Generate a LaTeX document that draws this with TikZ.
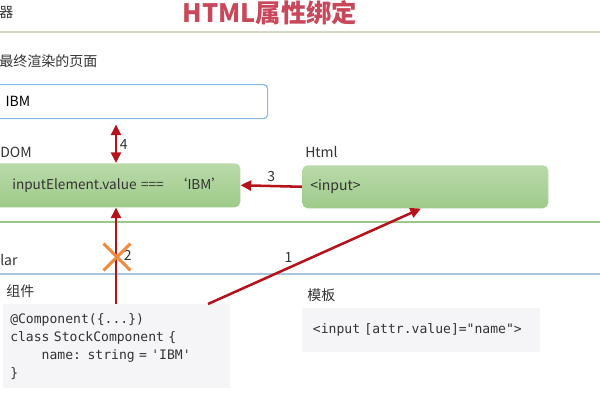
\documentclass[tikz,border=0pt]{standalone}
\usepackage{fontspec}
\setmainfont{Noto Sans CJK SC}
\newfontfamily\codefont{DejaVu Sans Mono}
\usetikzlibrary{arrows.meta,shapes.misc}
\definecolor{titlered}{HTML}{C9475B}
\definecolor{linkred}{HTML}{B5121B}
\definecolor{greentop}{HTML}{B9DAA9}
\definecolor{greenbot}{HTML}{9FCA8A}
\definecolor{codegrey}{HTML}{F5F4F7}
\definecolor{inputblue}{HTML}{8DB9EA}
\definecolor{crossorange}{HTML}{EF8A3F}
\definecolor{textgrey}{HTML}{333333}
\definecolor{ruleolive}{HTML}{D2DAC3}
\definecolor{rulegreen}{HTML}{9DC88D}
\definecolor{ruleblue}{HTML}{A9C5E0}
\newcommand{\lblfont}{\fontsize{10.5pt}{12.6pt}\selectfont}
\newcommand{\domfont}{\fontsize{10.2pt}{12.2pt}\selectfont}
\newcommand{\codesize}{\fontsize{9.8pt}{13.5pt}\selectfont}

\begin{document}
\begin{tikzpicture}[x=0.75pt,y=-0.75pt,
    lbl/.style={anchor=west,inner sep=0pt,text=textgrey,font=\lblfont},
    greenbox/.style={rounded corners=4pt,top color=greentop,bottom color=greenbot,
      anchor=north west,text=textgrey,font=\lblfont,align=left},
    inputbox/.style={draw=inputblue,line width=0.9pt,rounded corners=3pt,fill=white,
      anchor=north west,text=black,font=\lblfont,align=left},
    codebox/.style={fill=codegrey,anchor=north west,text=textgrey,
      font=\codefont\codesize,align=left},
    link/.style={draw=linkred,line width=1.9pt,>={Triangle[length=8pt,width=7.5pt]},->},
    crossmark/.style={cross out,draw=crossorange,line width=2.2pt,minimum size=18pt,inner sep=0pt},
    num/.style={text=textgrey,font=\lblfont,inner sep=2pt}]
  \useasboundingbox (0,0) rectangle (600,400);
  \clip (0,0) rectangle (600,400);

  % section rules
  \draw[ruleolive,line width=1.5pt] (0,32) -- (600,32);
  \draw[rulegreen,line width=0.8pt] (0,222) -- (600,222);
  \draw[ruleblue,line width=1.1pt] (0,274) -- (600,274);

  % titles and labels
  \draw (270,13) node[text=titlered,font=\bfseries\fontsize{19pt}{22pt}\selectfont](title){HTML属性绑定};
  \draw (-1,12) node[lbl](browser){器};
  \draw (-1,61) node[lbl](pagelbl){最终渲染的页面};
  \draw (0,152) node[lbl](domlbl){DOM};
  \draw (305,152) node[lbl](htmllbl){Html};
  \draw (0,260) node[lbl](nglbl){lar};
  \draw (6,291) node[lbl](complbl){组件};
  \draw (307,295) node[lbl](tpllbl){模板};

  % boxes
  \draw (-10,84) node[inputbox,minimum width=207.75pt,minimum height=25.5pt,
    inner xsep=11.25pt,text width=185.25pt](page){IBM};
  \draw (-10,163) node[greenbox,minimum width=187.5pt,minimum height=33pt,
    inner xsep=16.5pt,text width=154.5pt,font=\domfont](dom){\mbox{inputElement.value ===\hspace{0.75em}`IBM'}};
  \draw (302,165) node[greenbox,minimum width=184.5pt,minimum height=32.25pt,
    inner xsep=6pt,text width=172.5pt](html){<input>};
  \draw (3,304) node[codebox,minimum width=170.25pt,minimum height=63pt,
    inner xsep=5.25pt,text width=159.75pt](comp){@Component(\{...\})\\
    class StockComponent \{\\
    \phantom{xxxx}name: string = \textquotesingle IBM\textquotesingle\\
    \}};
  \draw (302,308) node[codebox,minimum width=178.5pt,minimum height=33pt,
    inner xsep=8pt,text width=162.5pt](tpl){<input [attr.value]="name">};

  % arrow columns
  \coordinate (colfour) at (116,0);
  \coordinate (colone) at (208,0);
  \coordinate (colend) at (421,0);

  \path
    (page.south -| colfour) edge[link,<->,shorten <=4pt]
      node[num,right,pos=0.58]{4} (dom.north -| colfour)
    (html.west) edge[link] node[num,above]{3} (dom.east)
    (comp.north -| colfour) edge[link] node[num,right=3pt]{2} (dom.south -| colfour)
    (comp.north -| colone) edge[link] node[num,above,pos=0.39,xshift=-2pt]{1} (html.south -| colend)
  ;
  \draw (117,257) node[crossmark](cross){};
\end{tikzpicture}
\end{document}
